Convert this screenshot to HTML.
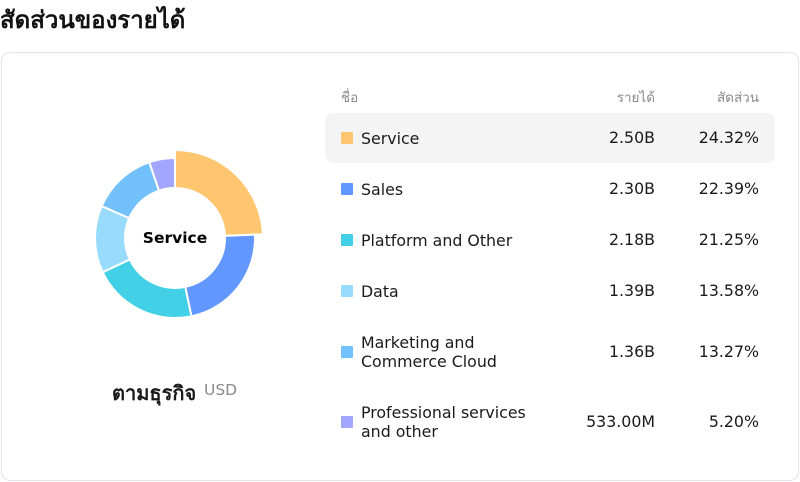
<!DOCTYPE html>
<html><head><meta charset="utf-8"><style>
*{box-sizing:border-box;margin:0;padding:0}
body{width:800px;height:482px;background:#fff;font-family:"DejaVu Sans","Liberation Sans","Noto Sans CJK SC",sans-serif;position:relative;overflow:hidden;color:#1a1a1a}
.title{position:absolute;left:0;top:0px;font-size:24px;font-weight:bold;font-family:"DejaVu Sans","Noto Sans CJK SC",sans-serif;color:#111}
.card{position:absolute;left:1px;top:52px;width:798px;height:429px;border:1px solid #e3e3ea;border-radius:9px}
.hdr{position:absolute;top:86px;font-size:13.5px;color:#8a8a8a}
.row{position:absolute;left:325px;width:450px;border-radius:8px}
.row.hl{background:#f4f4f5}
.sw{position:absolute;left:16px;width:12px;height:12px;border-radius:1px}
.nm{position:absolute;left:36px;font-size:15.8px;line-height:19px}
.v{position:absolute;font-size:15.8px;text-align:right;line-height:19px}
.lbl{position:absolute;left:112px;top:377px;font-size:20px;font-weight:bold}
.usd{position:absolute;left:204px;top:381px;font-size:15.5px;color:#8a8a8a}
</style></head><body>
<div class="title">สัดส่วนของรายได้</div>
<div class="card"></div>
<svg id="donut" width="800" height="482" style="position:absolute;left:0;top:0"></svg>
<div class="lbl">ตามธุรกิจ</div>
<div class="usd">USD</div>
<div class="hdr" style="left:341px">ชื่อ</div>
<div class="hdr" style="right:145px">รายได้</div>
<div class="hdr" style="right:41px">สัดส่วน</div>
<div id="rows"></div>
<script>
const categories=["Service","Sales","Platform and Other","Data","Marketing and Commerce Cloud","Professional services and other"];
const nameLines=[["Service"],["Sales"],["Platform and Other"],["Data"],["Marketing and","Commerce Cloud"],["Professional services","and other"]];
const revenueLabels=["2.50B","2.30B","2.18B","1.39B","1.36B","533.00M"];
const shares=[24.32,22.39,21.25,13.58,13.27,5.20];
const colors=["#FFC670","#6197FF","#42D0E6","#99DBFC","#72C0FC","#A3A6FF"];
const rowCenters=[139,190,241,292,353,423];
const svg=document.getElementById('donut');
const NS="http://www.w3.org/2000/svg";
const cx=175,cy=238,ri=50,ro=80,rh=88;
const total=shares.reduce((a,b)=>a+b,0);
function pt(r,a){return [cx+r*Math.sin(a),cy-r*Math.cos(a)];}
let acc=0;
shares.forEach((s,i)=>{
  const a0=acc/total*2*Math.PI;acc+=s;const a1=acc/total*2*Math.PI;
  const R=i===0?rh:ro;const large=a1-a0>Math.PI?1:0;
  const p0=pt(R,a0),p1=pt(R,a1),q1=pt(ri,a1),q0=pt(ri,a0);
  const p=document.createElementNS(NS,'path');
  p.setAttribute('d',`M${p0[0]},${p0[1]} A${R},${R} 0 ${large} 1 ${p1[0]},${p1[1]} L${q1[0]},${q1[1]} A${ri},${ri} 0 ${large} 0 ${q0[0]},${q0[1]} Z`);
  p.setAttribute('fill',colors[i]);p.setAttribute('stroke','#fff');p.setAttribute('stroke-width','2');
  
  
  svg.appendChild(p);
});
const t=document.createElementNS(NS,'text');
t.setAttribute('x',cx);t.setAttribute('y',cy+5);t.setAttribute('text-anchor','middle');
t.setAttribute('font-size','15.5');t.setAttribute('font-weight','bold');t.setAttribute('font-family','DejaVu Sans, sans-serif');
t.textContent=categories[0];


svg.appendChild(t);
const rows=document.getElementById('rows');
categories.forEach((c,i)=>{
  const y=rowCenters[i];
  const r=document.createElement('div');
  r.className='row'+(i===0?' hl':'');
  r.style.top=(y-26)+'px';r.style.height='50px';
  
  
  const lines=nameLines[i];
  const nh=lines.length*19;
  r.innerHTML=`<div class="sw" style="top:19px;background:${colors[i]}"></div>`+
   `<div class="nm" style="top:${25-nh/2}px">${lines.join('<br>')}</div>`+
   `<div class="v" style="right:120px;top:15px">${revenueLabels[i]}</div>`+
   `<div class="v" style="right:16px;top:15px">${shares[i].toFixed(2)}%</div>`;
  rows.appendChild(r);
});
</script>
</body></html>
